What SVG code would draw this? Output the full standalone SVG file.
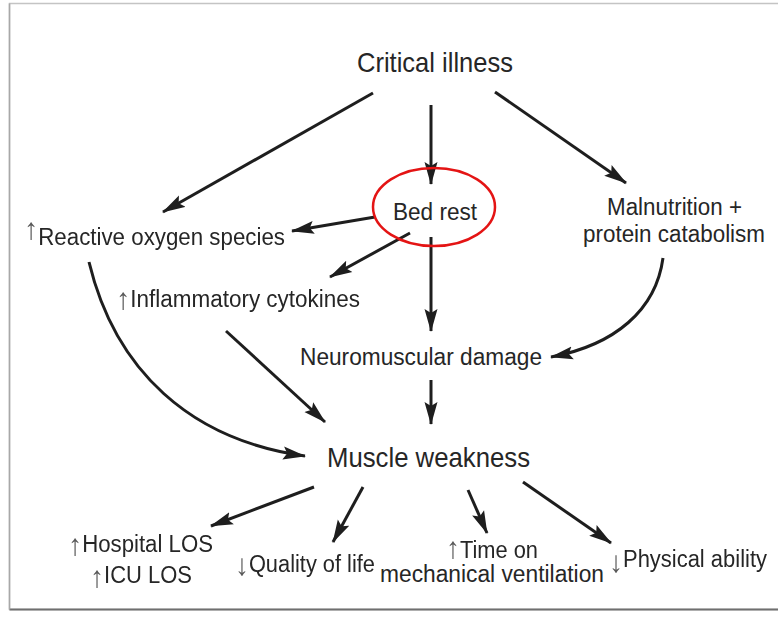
<svg xmlns="http://www.w3.org/2000/svg" width="778" height="617" viewBox="0 0 778 617">
  <defs>
    <marker id="head" markerUnits="userSpaceOnUse" markerWidth="24" markerHeight="14" viewBox="0 0 24 14" refX="22" refY="7" orient="auto">
      <path d="M0,0.5 L23,7 L0,13.5 L4,7 z" fill="#1e1e1e"/>
    </marker>
    <filter id="shade" x="-5%" y="-5%" width="110%" height="110%">
      <feGaussianBlur stdDeviation="1.2"/>
    </filter>
    <!-- pass-through filter: rasterises labels with plain grey smoothing -->
    <filter id="flat" x="-5%" y="-20%" width="110%" height="140%">
      <feOffset dx="0" dy="0"/>
    </filter>
  </defs>
  <style>
    .lbl { font-family: "Liberation Sans", Arial, sans-serif; fill: #262626; font-size: 23.5px; }
    .big { font-size: 28px; }
    .flat { filter: url(#flat); }
    .sym { font-size: 30px; fill: #5a5a5a; }
    .edge { fill: none; stroke: #1e1e1e; stroke-width: 3; marker-end: url(#head); }
  </style>

  <!-- page and frame -->
  <rect x="0" y="0" width="778" height="617" fill="#ffffff"/>
  <path d="M10,612 L778,612" stroke="#999" stroke-width="4" filter="url(#shade)"/>
  <rect x="9.5" y="3.5" width="780" height="606" fill="#ffffff" stroke="#c4c4c4" stroke-width="1.5"/>
  <line x1="9.5" y1="609.5" x2="778" y2="609.5" stroke="#6f6f6f" stroke-width="2"/>
  <line x1="9.5" y1="3.5" x2="9.5" y2="609.5" stroke="#a8a8a8" stroke-width="1.5"/>

  <!-- connectors -->
  <g id="connectors">
    <path class="edge" d="M373,93 L163,212"/>
    <path class="edge" d="M431,105 L431,184"/>
    <path class="edge" d="M495,92 L626,183"/>
    <path class="edge" d="M375,217 L292,231"/>
    <path class="edge" d="M410,233 L330,277"/>
    <path class="edge" d="M431,237 L431,331"/>
    <path class="edge" d="M663,258 C656,310 615,345 551,357"/>
    <path class="edge" d="M89,262 C115,370 190,440 305,456"/>
    <path class="edge" d="M226,331 L325,422"/>
    <path class="edge" d="M431,380 L431,424"/>
    <path class="edge" d="M314,487 L211,526"/>
    <path class="edge" d="M363,487 L333,542"/>
    <path class="edge" d="M468,490 L487,533"/>
    <path class="edge" d="M523,482 L611,543"/>
  </g>

  <!-- nodes -->
  <g id="critical-illness">
    <text class="lbl big" x="357" y="72" textLength="156" lengthAdjust="spacingAndGlyphs">Critical illness</text>
  </g>
  <g id="bed-rest">
    <ellipse cx="434" cy="207" rx="61" ry="39" fill="none" stroke="#e41414" stroke-width="2.5"/>
    <text class="lbl" x="393" y="220" font-size="25" textLength="84" lengthAdjust="spacingAndGlyphs">Bed rest</text>
  </g>
  <g id="malnutrition">
    <text class="lbl" x="607" y="215" textLength="135" lengthAdjust="spacingAndGlyphs">Malnutrition +</text>
    <text class="lbl" x="583" y="242" textLength="182" lengthAdjust="spacingAndGlyphs">protein catabolism</text>
  </g>
  <g id="reactive-oxygen">
    <text class="lbl flat" x="24" y="245" textLength="261" lengthAdjust="spacingAndGlyphs"><tspan class="sym" font-size="8" dy="-6">↑</tspan><tspan dy="6">Reactive oxygen species</tspan></text>
  </g>
  <g id="cytokines">
    <text class="lbl flat" x="116" y="307" textLength="244" lengthAdjust="spacingAndGlyphs"><tspan class="sym" dy="2">↑</tspan><tspan dy="-2">Inflammatory cytokines</tspan></text>
  </g>
  <g id="neuromuscular">
    <text class="lbl" x="300" y="365" textLength="242" lengthAdjust="spacingAndGlyphs">Neuromuscular damage</text>
  </g>
  <g id="muscle-weakness">
    <text class="lbl big" x="327" y="467" textLength="203" lengthAdjust="spacingAndGlyphs">Muscle weakness</text>
  </g>
  <g id="los">
    <text class="lbl flat" x="68" y="552" textLength="145" lengthAdjust="spacingAndGlyphs"><tspan class="sym" dy="3">↑</tspan><tspan dy="-3">Hospital LOS</tspan></text>
    <text class="lbl flat" x="90" y="583" textLength="102" lengthAdjust="spacingAndGlyphs"><tspan class="sym" dy="4">↑</tspan><tspan dy="-4">ICU LOS</tspan></text>
  </g>
  <g id="quality-of-life">
    <text class="lbl flat" x="235" y="572" textLength="140" lengthAdjust="spacingAndGlyphs"><tspan class="sym" dy="3">↓</tspan><tspan dy="-3">Quality of life</tspan></text>
  </g>
  <g id="ventilation">
    <text class="lbl flat" x="446" y="558" textLength="92" lengthAdjust="spacingAndGlyphs"><tspan class="sym" font-size="26">↑</tspan>Time on</text>
    <text class="lbl" x="380" y="582" textLength="224" lengthAdjust="spacingAndGlyphs">mechanical ventilation</text>
  </g>
  <g id="physical-ability">
    <text class="lbl flat" x="609" y="567" textLength="158" lengthAdjust="spacingAndGlyphs"><tspan class="sym" dy="5">↓</tspan><tspan dy="-5">Physical ability</tspan></text>
  </g>
</svg>
